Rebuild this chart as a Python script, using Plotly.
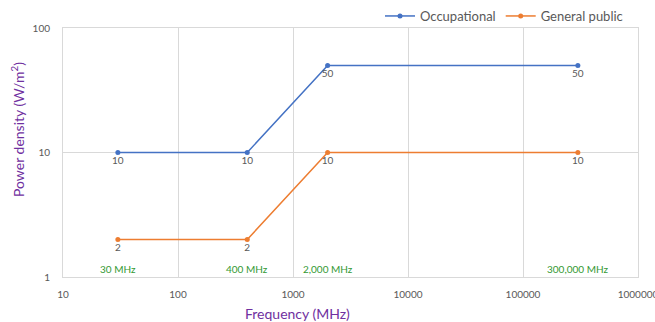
import plotly.graph_objects as go
import math

freq = [30, 400, 2000, 300000]
occupational = [10, 10, 50, 50]
general_public = [2, 2, 10, 10]
freq_labels = ["30 MHz", "400 MHz", "2,000 MHz", "300,000 MHz"]
x_ticks = [10, 100, 1000, 10000, 100000, 1000000]
y_ticks = [1, 10, 100]

BLUE = "#4472C4"
ORANGE = "#ED7D31"
GRAY = "#595959"
PURPLE = "#7030A0"
GREEN = "#339933"
FONT = "Lato"

L, R, T, B = 63, 638, 28, 277
PW, PH = R - L, B - T

fig = go.Figure()
fig.add_trace(go.Scatter(
    x=freq, y=occupational, name="Occupational", mode="lines+markers+text",
    line=dict(color=BLUE, width=1.5), marker=dict(color=BLUE, size=5),
    text=[str(v) for v in occupational], textposition="bottom center",
    textfont=dict(color=GRAY, size=10, family=FONT), cliponaxis=False))
fig.add_trace(go.Scatter(
    x=freq, y=general_public, name="General public", mode="lines+markers+text",
    line=dict(color=ORANGE, width=1.5), marker=dict(color=ORANGE, size=5),
    text=[str(v) for v in general_public], textposition="bottom center",
    textfont=dict(color=GRAY, size=10, family=FONT), cliponaxis=False))

for f, lab in zip(freq, freq_labels):
    fig.add_annotation(x=math.log10(f), y=0, xref="x", yref="y", text=lab,
                       showarrow=False, yanchor="bottom", yshift=0,
                       font=dict(color=GREEN, size=10, family=FONT))

fig.add_annotation(x=(297 - L) / PW, y=-(313 - B) / PH, xref="paper", yref="paper",
                   text="Frequency (MHz)", showarrow=False,
                   xanchor="center", yanchor="middle",
                   font=dict(color=PURPLE, size=14, family=FONT))
fig.add_annotation(x=-(L - 17) / PW, y=(B - 130) / PH, xref="paper", yref="paper",
                   text="Power density (W/m<sup>2</sup>)", textangle=-90, showarrow=False,
                   xanchor="center", yanchor="middle",
                   font=dict(color=PURPLE, size=14, family=FONT))

fig.update_xaxes(type="log", range=[1, 6], tickvals=x_ticks, ticktext=[str(v) for v in x_ticks],
                 showgrid=True, gridcolor="#D9D9D9", gridwidth=1,
                 showline=True, linecolor="#D9D9D9", linewidth=1, mirror=True,
                 zeroline=False, ticks="", ticklabelstandoff=8, automargin=False,
                 ticklabeloverflow="allow",
                 tickfont=dict(color=GRAY, size=10, family=FONT))
fig.update_yaxes(type="log", range=[0, 2], tickvals=y_ticks, ticktext=[str(v) for v in y_ticks],
                 showgrid=True, gridcolor="#D9D9D9", gridwidth=1,
                 showline=True, linecolor="#D9D9D9", linewidth=1, mirror=True,
                 zeroline=False, ticks="", ticklabelstandoff=10, automargin=False,
                 tickfont=dict(color=GRAY, size=10, family=FONT))

fig.update_layout(
    width=655, height=322, margin=dict(l=L, r=655 - R, t=T, b=322 - B, autoexpand=False),
    paper_bgcolor="white", plot_bgcolor="white",
    font=dict(family=FONT, color=GRAY),
    legend=dict(orientation="h", x=(628 - L) / PW, xanchor="right", y=1 + 12 / PH, yanchor="middle",
                font=dict(color=GRAY, size=13, family=FONT), bgcolor="rgba(0,0,0,0)",
                tracegroupgap=0),
    showlegend=True,
)
fig.write_html("out.html", config={"displayModeBar": False},
               post_script="document.body.style.margin='0';document.body.style.overflow='hidden';")
